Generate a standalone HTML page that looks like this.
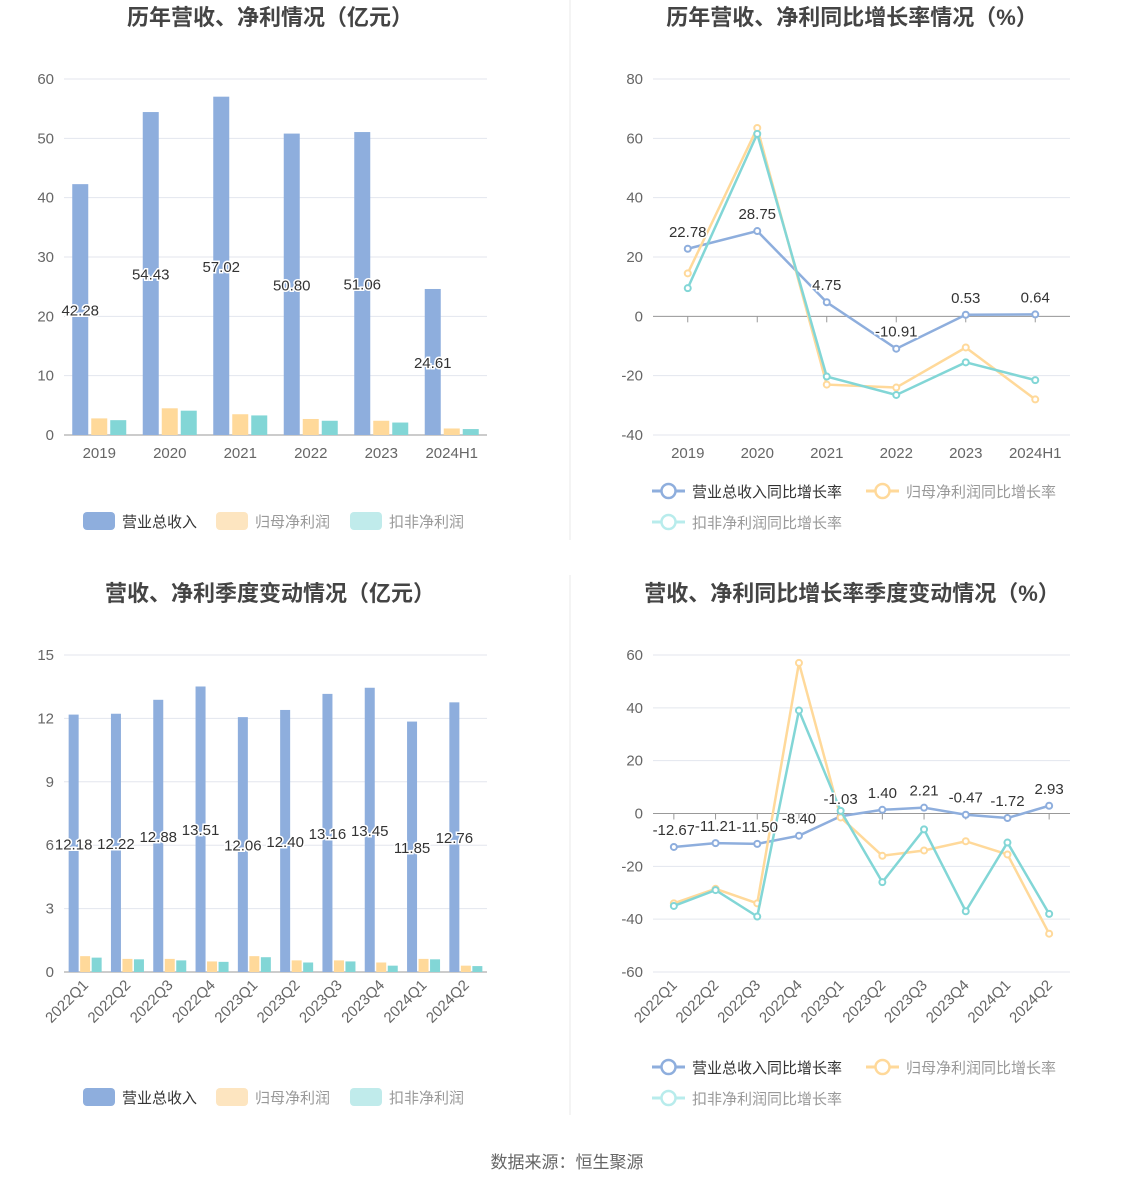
<!DOCTYPE html>
<html><head><meta charset="utf-8"><style>
body{margin:0;background:#fff;font-family:"Liberation Sans","Noto Sans CJK SC",sans-serif}
svg{display:block}
</style></head><body>
<svg id="c" width="1134" height="1188" xmlns="http://www.w3.org/2000/svg" font-family="Liberation Sans, Noto Sans CJK SC, sans-serif"></svg>
<script>
const yearCats=["2019","2020","2021","2022","2023","2024H1"];
const yearRevenue=[42.28,54.43,57.02,50.80,51.06,24.61];
const yearNet=[2.8,4.5,3.5,2.7,2.4,1.1];
const yearDeduct=[2.5,4.1,3.3,2.4,2.1,1.0];
const yearTicks=[0,10,20,30,40,50,60];
const yrRevG=[22.78,28.75,4.75,-10.91,0.53,0.64];
const yrNetG=[14.5,63.5,-23,-24,-10.5,-28];
const yrDedG=[9.5,61.5,-20.3,-26.5,-15.5,-21.5];
const yrGTicks=[-40,-20,0,20,40,60,80];
const qCats=["2022Q1","2022Q2","2022Q3","2022Q4","2023Q1","2023Q2","2023Q3","2023Q4","2024Q1","2024Q2"];
const qRevenue=[12.18,12.22,12.88,13.51,12.06,12.40,13.16,13.45,11.85,12.76];
const qNet=[0.75,0.62,0.62,0.5,0.75,0.55,0.55,0.45,0.62,0.3];
const qDeduct=[0.68,0.6,0.55,0.48,0.7,0.45,0.5,0.3,0.6,0.28];
const qTicks=[0,3,6,9,12,15];
const qRevG=[-12.67,-11.21,-11.50,-8.40,-1.03,1.40,2.21,-0.47,-1.72,2.93];
const qNetG=[-34,-28.5,-34,57,-1.5,-16,-14,-10.5,-15.5,-45.5];
const qDedG=[-35,-29,-39,39,1,-26,-6,-37,-11,-38];
const qGTicks=[-60,-40,-20,0,20,40,60];

const svg=document.getElementById('c');const NS="http://www.w3.org/2000/svg";
function el(t,a,txt,p){const e=document.createElementNS(NS,t);for(const k in a)e.setAttribute(k,a[k]);if(txt!==undefined)e.textContent=txt;(p||svg).appendChild(e);return e;}
const C1="#8eaedd",C2="#ffd99a",C3="#82d6d6";
function title(x,y,t,n){const e=el('text',{x:x,y:y,'text-anchor':'middle','font-size':22,'font-weight':'bold',fill:'#444'},t);}
function axes(o){
 const g=el('g',{});
 const y=v=>o.y0+(v-o.tmin)/(o.tmax-o.tmin)*(o.y1-o.y0);
 o.ticks.forEach(t=>{el('line',{x1:o.x0,x2:o.x1,y1:y(t),y2:y(t),stroke:'#e3e6ee'},undefined,g);
  el('text',{x:o.x0-10,y:y(t)+5,'text-anchor':'end','font-size':15,fill:'#666'},t,g);});
 const bw=(o.x1-o.x0)/o.cats.length;const zy=y(0);
 el('line',{x1:o.x0,x2:o.x1,y1:zy,y2:zy,stroke:'#999'},undefined,g);
 o.cats.forEach((c,i)=>{const cx=o.x0+bw*(i+0.5);
  if(o.tickMarks)el('line',{x1:cx,x2:cx,y1:zy,y2:zy+6,stroke:'#999'},undefined,g);
  if(o.rot){el('text',{x:cx+4,y:o.y0+14,'text-anchor':'end','font-size':15,fill:'#666',transform:`rotate(-45 ${cx+4} ${o.y0+14})`},c,g);}
  else el('text',{x:cx,y:o.y0+23,'text-anchor':'middle','font-size':15,fill:'#666'},c,g);});
 return {y:y,bw:bw,x:i=>o.x0+bw*(i+0.5)};
}
function bars(o,ax,series,colors,w,gap,labels){
 series.forEach((s,si)=>{s.forEach((v,i)=>{const cx=ax.x(i)+(si-1)*(w+gap);
  const r=el('rect',{x:cx-w/2,y:ax.y(v),width:w,height:ax.y(0)-ax.y(v),fill:colors[si]});
  });});
 series[0].forEach((v,i)=>{const cx=ax.x(i)-(w+gap);const t=el('text',{x:cx,y:(ax.y(v)+ax.y(0))/2+6,'text-anchor':'middle','font-size':15,fill:'#333',stroke:'#fff','stroke-width':3,'paint-order':'stroke'},v.toFixed(2));
  });
}
function lines(o,ax,series,colors,labelDy){
 series.forEach((s,si)=>{const pts=s.map((v,i)=>ax.x(i)+','+ax.y(v)).join(' ');
  const p=el('polyline',{points:pts,fill:'none',stroke:colors[si],'stroke-width':2.5});
  s.forEach((v,i)=>{const c=el('circle',{cx:ax.x(i),cy:ax.y(v),r:3,fill:'#fff',stroke:colors[si],'stroke-width':2});});});
 const s=series[0];s.forEach((v,i)=>{const t=el('text',{x:ax.x(i),y:ax.y(v)-12,'text-anchor':'middle','font-size':15,fill:'#333',stroke:'#fff','stroke-width':3,'paint-order':'stroke'},v.toFixed(2));});
}
function barLegend(y){[["营业总收入",C1,83],["归母净利润","#fde5c0",216],["扣非净利润","#c0ebeb",350]].forEach((l,i)=>{
 const g=el('g',{});
 el('rect',{x:l[2],y:y-9,width:32,height:18,rx:4,fill:l[1]},undefined,g);
 el('text',{x:l[2]+39,y:y+6,'font-size':15,fill:i==0?'#333':'#999'},l[0],g);});}
function lineLegend(y){[["营业总收入同比增长率",C1,652,y],["归母净利润同比增长率",C2,866,y],["扣非净利润同比增长率","#b8ecec",652,y+31]].forEach((l,i)=>{
 const g=el('g',{});
 el('line',{x1:l[2],x2:l[2]+33,y1:l[3],y2:l[3],stroke:l[1],'stroke-width':3},undefined,g);
 el('circle',{cx:l[2]+16.5,cy:l[3],r:7,fill:'#fff',stroke:l[1],'stroke-width':2.5},undefined,g);
 el('text',{x:l[2]+40,y:l[3]+6,'font-size':15,fill:i==0?'#333':'#999'},l[0],g);});}

el('line',{x1:570,x2:570,y1:0,y2:540,stroke:'#e8e8e8'});
el('line',{x1:570,x2:570,y1:575,y2:1115,stroke:'#e8e8e8'});

title(270,25,"历年营收、净利情况（亿元）","chart1-title");
let o1={name:'chart1',x0:64,x1:487,y0:435,y1:79,tmin:0,tmax:60,ticks:yearTicks,cats:yearCats};
let a1=axes(o1);bars(o1,a1,[yearRevenue,yearNet,yearDeduct],[C1,C2,C3],16,3);barLegend(521);

title(852,25,"历年营收、净利同比增长率情况（%）","chart2-title");
let o2={name:'chart2',x0:653,x1:1070,y0:435,y1:79,tmin:-40,tmax:80,ticks:yrGTicks,cats:yearCats,tickMarks:true};
let a2=axes(o2);lines(o2,a2,[yrRevG,yrNetG,yrDedG],[C1,C2,C3]);lineLegend(491);

title(270,601,"营收、净利季度变动情况（亿元）","chart3-title");
let o3={name:'chart3',x0:64,x1:487,y0:972,y1:655,tmin:0,tmax:15,ticks:qTicks,cats:qCats,rot:true};
let a3=axes(o3);bars(o3,a3,[qRevenue,qNet,qDeduct],[C1,C2,C3],10,1.5);barLegend(1097);

title(852,601,"营收、净利同比增长率季度变动情况（%）","chart4-title");
let o4={name:'chart4',x0:653,x1:1070,y0:972,y1:655,tmin:-60,tmax:60,ticks:qGTicks,cats:qCats,rot:true,tickMarks:true};
let a4=axes(o4);lines(o4,a4,[qRevG,qNetG,qDedG],[C1,C2,C3]);lineLegend(1067);

const f=el('text',{x:567,y:1168,'text-anchor':'middle','font-size':17,fill:'#666'},"数据来源：恒生聚源");

</script>
</body></html>
